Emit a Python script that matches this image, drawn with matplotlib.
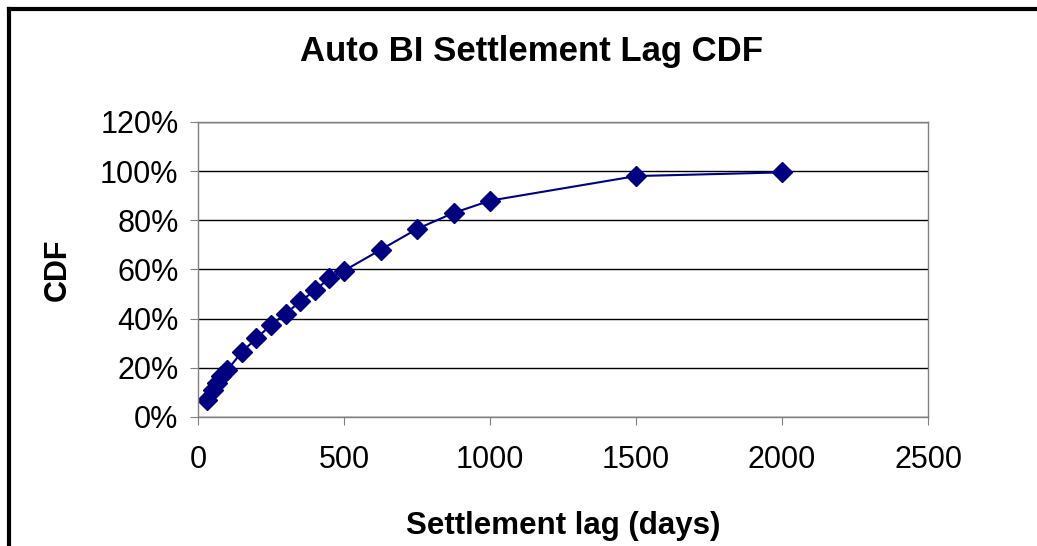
import matplotlib
matplotlib.use("Agg")
import matplotlib.pyplot as plt
from matplotlib.ticker import PercentFormatter
from matplotlib.lines import Line2D

plt.rcParams['font.family'] = ['Liberation Sans', 'DejaVu Sans']

# settlement lag in days and the cumulative share settled
lag_days = [30, 50, 65, 80, 100, 150, 200, 250, 300, 350, 400, 450, 500,
            625, 750, 875, 1000, 1500, 2000]
cdf_pct = [7, 11, 14, 16.5, 19, 26.5, 32, 37.5, 42, 47, 51.5, 56.5, 59.5,
           68, 76.5, 83, 88, 98, 99.5]

x_ticks = [0, 500, 1000, 1500, 2000, 2500]
y_ticks = [0, 20, 40, 60, 80, 100, 120]

fig = plt.figure(figsize=(10.37, 5.46), dpi=100)
ax = fig.add_axes([0.191, 0.2363, 0.704, 0.5403])

ax.plot(lag_days, cdf_pct, color='#000080', lw=1.5, marker='D',
        markersize=10, markerfacecolor='#000080', markeredgecolor='#000080')

ax.set_xlim(0, 2500)
ax.set_ylim(0, 120)
ax.set_xticks(x_ticks)
ax.set_yticks(y_ticks)
ax.yaxis.set_major_formatter(PercentFormatter(decimals=0))
ax.grid(axis='y', color='black', lw=1)
ax.set_axisbelow(True)
for s in ax.spines.values():
    s.set_color('#808080')
    s.set_linewidth(1)
ax.tick_params(direction='out', length=6, color='#808080', labelsize=22, pad=8)
ax.tick_params(axis='x', pad=14)

# title is centred on the chart frame rather than the plot area
fig.text(532/1037, 1 - 52/546, 'Auto BI Settlement Lag CDF', fontsize=25,
         fontweight='bold', ha='center', va='center')
ax.set_xlabel('Settlement lag (days)', fontsize=22.5, fontweight='bold', labelpad=26)
ax.set_ylabel('CDF', fontsize=22, fontweight='bold', labelpad=20)

# outer chart frame, running off the right and bottom edges
fig.add_artist(Line2D([9/1037, 9/1037], [0, 1 - 9/546], color='black', lw=3,
                      transform=fig.transFigure))
fig.add_artist(Line2D([9/1037, 1], [1 - 9/546, 1 - 9/546], color='black', lw=3,
                      transform=fig.transFigure))

fig.savefig('out.png', dpi=100)
